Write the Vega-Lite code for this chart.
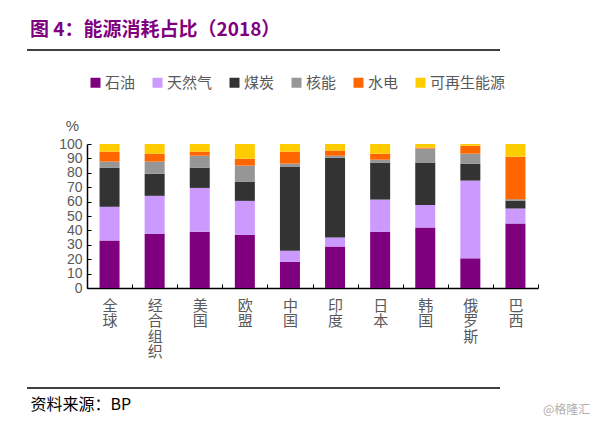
{
  "$schema": "https://vega.github.io/schema/vega-lite/v6.json",
  "width": 451,
  "height": 144,
  "autosize": {"type": "none"},
  "padding": {"left": 87, "top": 144, "right": 66, "bottom": 135},
  "background": "white",
  "config": {"view": {"stroke": null}, "font": "Noto Sans CJK SC"},
  "title": {
    "text": "图 4：能源消耗占比（2018）",
    "color": "#7F007F",
    "fontSize": 19,
    "fontWeight": "bold",
    "anchor": "start",
    "frame": "group",
    "dx": -57,
    "offset": 9
  },
  "datasets": {
    "energy": [
      {"country": "全球", "source": "石油", "ord": 1, "value": 33},
      {"country": "全球", "source": "天然气", "ord": 2, "value": 23.4},
      {"country": "全球", "source": "煤炭", "ord": 3, "value": 27.2},
      {"country": "全球", "source": "核能", "ord": 4, "value": 4.2},
      {"country": "全球", "source": "水电", "ord": 5, "value": 6.9},
      {"country": "全球", "source": "可再生能源", "ord": 6, "value": 5.3},
      {"country": "经合组织", "source": "石油", "ord": 1, "value": 37.6},
      {"country": "经合组织", "source": "天然气", "ord": 2, "value": 26.4},
      {"country": "经合组织", "source": "煤炭", "ord": 3, "value": 15.4},
      {"country": "经合组织", "source": "核能", "ord": 4, "value": 8.4},
      {"country": "经合组织", "source": "水电", "ord": 5, "value": 5.5},
      {"country": "经合组织", "source": "可再生能源", "ord": 6, "value": 6.7},
      {"country": "美国", "source": "石油", "ord": 1, "value": 39},
      {"country": "美国", "source": "天然气", "ord": 2, "value": 30.5},
      {"country": "美国", "source": "煤炭", "ord": 3, "value": 14.1},
      {"country": "美国", "source": "核能", "ord": 4, "value": 8.3},
      {"country": "美国", "source": "水电", "ord": 5, "value": 2.8},
      {"country": "美国", "source": "可再生能源", "ord": 6, "value": 5.3},
      {"country": "欧盟", "source": "石油", "ord": 1, "value": 37},
      {"country": "欧盟", "source": "天然气", "ord": 2, "value": 23.5},
      {"country": "欧盟", "source": "煤炭", "ord": 3, "value": 13.4},
      {"country": "欧盟", "source": "核能", "ord": 4, "value": 11.1},
      {"country": "欧盟", "source": "水电", "ord": 5, "value": 4.8},
      {"country": "欧盟", "source": "可再生能源", "ord": 6, "value": 10.2},
      {"country": "中国", "source": "石油", "ord": 1, "value": 18.2},
      {"country": "中国", "source": "天然气", "ord": 2, "value": 7.7},
      {"country": "中国", "source": "煤炭", "ord": 3, "value": 58.4},
      {"country": "中国", "source": "核能", "ord": 4, "value": 2.1},
      {"country": "中国", "source": "水电", "ord": 5, "value": 8.3},
      {"country": "中国", "source": "可再生能源", "ord": 6, "value": 5.3},
      {"country": "印度", "source": "石油", "ord": 1, "value": 28.9},
      {"country": "印度", "source": "天然气", "ord": 2, "value": 6.2},
      {"country": "印度", "source": "煤炭", "ord": 3, "value": 55.4},
      {"country": "印度", "source": "核能", "ord": 4, "value": 1.4},
      {"country": "印度", "source": "水电", "ord": 5, "value": 3.5},
      {"country": "印度", "source": "可再生能源", "ord": 6, "value": 4.6},
      {"country": "日本", "source": "石油", "ord": 1, "value": 39},
      {"country": "日本", "source": "天然气", "ord": 2, "value": 22.4},
      {"country": "日本", "source": "煤炭", "ord": 3, "value": 25.7},
      {"country": "日本", "source": "核能", "ord": 4, "value": 2},
      {"country": "日本", "source": "水电", "ord": 5, "value": 4.2},
      {"country": "日本", "source": "可再生能源", "ord": 6, "value": 6.7},
      {"country": "韩国", "source": "石油", "ord": 1, "value": 42},
      {"country": "韩国", "source": "天然气", "ord": 2, "value": 15.7},
      {"country": "韩国", "source": "煤炭", "ord": 3, "value": 29.4},
      {"country": "韩国", "source": "核能", "ord": 4, "value": 9.7},
      {"country": "韩国", "source": "水电", "ord": 5, "value": 0.7},
      {"country": "韩国", "source": "可再生能源", "ord": 6, "value": 2.5},
      {"country": "俄罗斯", "source": "石油", "ord": 1, "value": 20.6},
      {"country": "俄罗斯", "source": "天然气", "ord": 2, "value": 54},
      {"country": "俄罗斯", "source": "煤炭", "ord": 3, "value": 11.8},
      {"country": "俄罗斯", "source": "核能", "ord": 4, "value": 6.9},
      {"country": "俄罗斯", "source": "水电", "ord": 5, "value": 5.5},
      {"country": "俄罗斯", "source": "可再生能源", "ord": 6, "value": 1.2},
      {"country": "巴西", "source": "石油", "ord": 1, "value": 44.8},
      {"country": "巴西", "source": "天然气", "ord": 2, "value": 10.4},
      {"country": "巴西", "source": "煤炭", "ord": 3, "value": 5.5},
      {"country": "巴西", "source": "核能", "ord": 4, "value": 1},
      {"country": "巴西", "source": "水电", "ord": 5, "value": 29.5},
      {"country": "巴西", "source": "可再生能源", "ord": 6, "value": 8.8}
    ]
  },
  "layer": [
    {
      "data": {"name": "energy"},
      "mark": {"type": "bar", "width": 20},
      "encoding": {
        "x": {
          "field": "country",
          "type": "nominal",
          "sort": ["全球", "经合组织", "美国", "欧盟", "中国", "印度", "日本", "韩国", "俄罗斯", "巴西"],
          "scale": {"paddingInner": 0, "paddingOuter": 0},
          "axis": {
            "title": "资料来源：BP",
            "titleX": -57,
            "titleY": 116,
            "titleAlign": "left",
            "titleBaseline": "middle",
            "titleFontSize": 16,
            "titleFontWeight": "normal",
            "titleColor": "#000000",
            "labelAngle": 0,
            "labelExpr": "split(datum.label, '')",
            "labelLineHeight": 15.5,
            "labelFontSize": 15,
            "labelColor": "#595959",
            "labelBaseline": "top",
            "labelPadding": 14,
            "labelOverlap": false,
            "tickBand": "extent",
            "tickSize": -4,
            "tickColor": "#000000",
            "domainColor": "#000000",
            "domainWidth": 1.5
          }
        },
        "y": {
          "field": "value",
          "type": "quantitative",
          "stack": "zero",
          "scale": {"domain": [0, 100], "nice": false},
          "axis": {
            "values": [0, 10, 20, 30, 40, 50, 60, 70, 80, 90, 100],
            "title": "%",
            "titleAngle": 0,
            "titleX": -15,
            "titleY": -19,
            "titleAlign": "center",
            "titleBaseline": "middle",
            "titleFont": "Liberation Sans",
            "titleFontSize": 15,
            "titleFontWeight": "normal",
            "titleColor": "#595959",
            "labelFont": "Liberation Sans",
            "labelFontSize": 14,
            "labelColor": "#595959",
            "labelPadding": 9,
            "labelOverlap": false,
            "labelFlush": false,
            "tickSize": -4,
            "tickColor": "#000000",
            "domainColor": "#000000",
            "domainWidth": 1.5,
            "grid": false
          }
        },
        "color": {
          "field": "source",
          "type": "nominal",
          "scale": {
            "domain": ["石油", "天然气", "煤炭", "核能", "水电", "可再生能源"],
            "range": ["#7F007F", "#CC99FF", "#333333", "#969696", "#FF6600", "#FFCC00"]
          },
          "legend": {
            "orient": "none",
            "legendX": 1,
            "legendY": -69,
            "direction": "horizontal",
            "title": null,
            "symbolType": "square",
            "symbolSize": 100,
            "symbolStrokeWidth": 0,
            "symbolOpacity": 1,
            "labelFontSize": 15,
            "labelColor": "#595959",
            "labelOffset": 2,
            "columnPadding": 14
          }
        },
        "order": {"field": "ord", "type": "quantitative", "sort": "ascending"}
      }
    },
    {
      "data": {"values": [{}]},
      "mark": {"type": "rule", "color": "#000000", "strokeWidth": 1.5},
      "encoding": {"x": {"value": -60}, "x2": {"value": 413}, "y": {"value": -94}}
    },
    {
      "data": {"values": [{}]},
      "mark": {"type": "rule", "color": "#000000", "strokeWidth": 1.5},
      "encoding": {"x": {"value": -60}, "x2": {"value": 413}, "y": {"value": 244}}
    },
    {
      "data": {"values": [{}]},
      "mark": {"type": "text", "text": "@格隆汇", "color": "#b0b0b0", "fontSize": 12, "align": "left", "baseline": "middle"},
      "encoding": {"x": {"value": 456}, "y": {"value": 266}}
    }
  ]
}
